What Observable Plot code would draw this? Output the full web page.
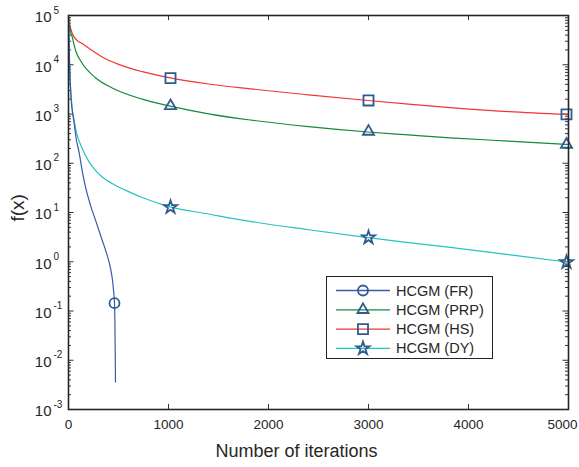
<!DOCTYPE html>
<html>
<head>
<meta charset="utf-8">
<script src="https://cdn.jsdelivr.net/npm/d3@7"></script>
<script src="https://cdn.jsdelivr.net/npm/@observablehq/plot@0.6"></script>
<style>
  html, body { margin: 0; padding: 0; background: #fff; }
  #wrap { position: relative; width: 579px; height: 467px; overflow: hidden; font-family: "Liberation Sans", Arial, sans-serif; }
  #legend { position: absolute; left: 326px; top: 276px; width: 167px; height: 83px; border: 1px solid #222; background: #fff; box-sizing: border-box; }
</style>
</head>
<body>
<div id="wrap"></div>
<script>
// ---- data ----
const iterFR = [0, 5, 12, 20, 28, 40, 54, 80, 104, 140, 170, 220, 270, 337, 380, 417, 440, 450, 460, 464, 467, 470];
const fFR    = [90000, 30000, 8000, 3500, 1800, 1100, 700, 290, 175, 65, 33, 14, 7, 2.74, 1.5, 0.785, 0.42, 0.264, 0.144, 0.06, 0.016, 0.0036];

const iterPRP = [0, 5, 10, 37, 70, 137, 270, 437, 737, 1017, 1400, 1817, 2400, 2994, 3400, 3817, 4400, 5000];
const fPRP    = [95000, 75000, 60000, 36800, 19700, 10700, 5450, 3370, 2000, 1445, 1010, 755, 554, 431, 377, 329, 281, 240];

const iterHS = [0, 5, 10, 40, 80, 137, 220, 337, 500, 737, 1017, 1400, 1817, 2400, 2994, 3400, 3817, 4400, 5000];
const fHS    = [97000, 80000, 69000, 42000, 32000, 27000, 20500, 14400, 10200, 7240, 5430, 4070, 3240, 2450, 1880, 1585, 1350, 1120, 977];

const iterDY = [0, 5, 12, 20, 30, 40, 50, 80, 137, 200, 270, 350, 437, 600, 737, 1017, 1400, 1817, 2400, 2994, 3400, 3817, 4400, 5000];
const fDY    = [90000, 30000, 8000, 3500, 1900, 1100, 860, 420, 200, 112, 71.5, 50, 38.8, 26.5, 20.2, 13, 9.33, 6.6, 4.47, 3.09, 2.45, 1.95, 1.4, 0.977];

// marker positions
const mkFR  = {x: [460], y: [0.144]};
const mkPRP = {x: [1020, 3000, 4980], y: [1460, 440, 240]};
const mkHS  = {x: [1020, 3000, 4980], y: [5350, 1880, 980]};
const mkDY  = {x: [1020, 3000, 4980], y: [12.8, 3.1, 0.98]};

const seriesNames = ["HCGM (FR)", "HCGM (PRP)", "HCGM (HS)", "HCGM (DY)"];
const xTicks = [0, 1000, 2000, 3000, 4000, 5000];
const yTicks = [1e-3, 1e-2, 1e-1, 1e0, 1e1, 1e2, 1e3, 1e4, 1e5];
const yExp   = ["-3", "-2", "-1", "0", "1", "2", "3", "4", "5"];

// ---- styles ----
const colFR = "#3a5aa8", colPRP = "#138a3c", colHS = "#f23434", colDY = "#27c2c2";
const mkCol = "#2f5b8f";
const symFR = d3.symbolCircle, symPRP = d3.symbolTriangle2, symHS = d3.symbolSquare2, symDY = d3.symbolStar;
const rFR = 5, rPRP = 5.3, rHS = 6.4, rDY = 4.1;

const toRows = (xs, ys) => xs.map((x, i) => ({x, y: ys[i]}));
const minorY = [];
for (let e = -3; e < 5; e++) for (let k = 2; k <= 9; k++) minorY.push(k * Math.pow(10, e));
const innerX = xTicks.filter(d => d > 0 && d < 5000);

const W = 579, H = 467;
const chart = Plot.plot({
  width: W, height: H,
  marginLeft: 68, marginRight: 11, marginTop: 15, marginBottom: 58,
  style: {fontFamily: "Liberation Sans, Arial, sans-serif", background: "#fff", color: "#262626"},
  x: {domain: [0, 5000], axis: null},
  y: {type: "log", domain: [1e-3, 1e5], axis: null},
  marks: [
    // inward ticks
    Plot.ruleY(yTicks, {y: d => d, x1: 0, x2: 55, stroke: "#333", strokeWidth: 1}),
    Plot.ruleY(minorY, {y: d => d, x1: 0, x2: 30, stroke: "#333", strokeWidth: 1}),
    Plot.ruleY(yTicks, {y: d => d, x1: 4945, x2: 5000, stroke: "#333", strokeWidth: 1}),
    Plot.ruleY(minorY, {y: d => d, x1: 4970, x2: 5000, stroke: "#333", strokeWidth: 1}),
    Plot.ruleX(innerX, {x: d => d, y1: 1e-3, y2: 1.27e-3, stroke: "#333", strokeWidth: 1}),
    Plot.ruleX(innerX, {x: d => d, y1: 1e5, y2: 1e5 / 1.27, stroke: "#333", strokeWidth: 1}),
    // curves
    Plot.line(toRows(iterHS, fHS), {x: "x", y: "y", stroke: colHS, strokeWidth: 1.2, curve: "monotone-x"}),
    Plot.line(toRows(iterPRP, fPRP), {x: "x", y: "y", stroke: colPRP, strokeWidth: 1.2, curve: "monotone-x"}),
    Plot.line(toRows(iterDY, fDY), {x: "x", y: "y", stroke: colDY, strokeWidth: 1.2, curve: "monotone-x"}),
    Plot.line(toRows(iterFR, fFR), {x: "x", y: "y", stroke: colFR, strokeWidth: 1.2, curve: "monotone-x"}),
    // markers
    Plot.dot(toRows(mkFR.x, mkFR.y), {x: "x", y: "y", symbol: symFR, r: rFR, stroke: mkCol, strokeWidth: 1.8, fill: "none"}),
    Plot.dot(toRows(mkPRP.x, mkPRP.y), {x: "x", y: "y", symbol: symPRP, r: rPRP, stroke: mkCol, strokeWidth: 1.8, fill: "none"}),
    Plot.dot(toRows(mkHS.x, mkHS.y), {x: "x", y: "y", symbol: symHS, r: rHS, stroke: mkCol, strokeWidth: 1.8, fill: "none"}),
    Plot.dot(toRows(mkDY.x, mkDY.y), {x: "x", y: "y", symbol: symDY, r: rDY, stroke: mkCol, strokeWidth: 1.8, fill: "none"}),
    Plot.frame({stroke: "#262626", strokeWidth: 1.6}),
    // tick labels
    Plot.text(yTicks, {y: d => d, text: () => "10", frameAnchor: "left", dx: -17, dy: 2, textAnchor: "end", fontSize: 15, fill: "#262626"}),
    Plot.text(yTicks, {y: d => d, text: (d, i) => yExp[i], frameAnchor: "left", dx: -15, dy: -5, textAnchor: "start", fontSize: 10, fill: "#262626"}),
    Plot.text(xTicks.slice(0, 5), {x: d => d, text: d => String(d), frameAnchor: "bottom", dy: 19, fontSize: 13.5, fill: "#262626"}),
    Plot.text(xTicks.slice(5), {x: d => d, text: d => String(d), frameAnchor: "bottom", dy: 19, dx: -6, fontSize: 13.5, fill: "#262626"}),
    // axis titles
    Plot.text(["Number of iterations"], {frameAnchor: "bottom", dx: -22, dy: 47, fontSize: 18, fill: "#262626"}),
    Plot.text(["f(x)"], {frameAnchor: "left", dx: -51, dy: 9, rotate: -90, fontSize: 19, fill: "#262626"})
  ]
});
const wrap = document.getElementById("wrap");
wrap.appendChild(chart);

// ---- legend ----
const leg = document.createElement("div");
leg.id = "legend";
wrap.appendChild(leg);
const lsvg = d3.select(leg).append("svg").attr("width", 165).attr("height", 81).style("display", "block");
const legItems = [
  {name: seriesNames[0], col: colFR, sym: symFR, r: rFR},
  {name: seriesNames[1], col: colPRP, sym: symPRP, r: rPRP},
  {name: seriesNames[2], col: colHS, sym: symHS, r: rHS},
  {name: seriesNames[3], col: colDY, sym: symDY, r: rDY}
];
legItems.forEach((it, i) => {
  const y = 13.5 + i * 19.3;
  const g = lsvg.append("g").attr("transform", `translate(0,${y})`);
  g.append("line").attr("x1", 9).attr("x2", 63).attr("y1", 0).attr("y2", 0).attr("stroke", it.col).attr("stroke-width", 1.3);
  g.append("path").attr("transform", "translate(36,0)").attr("d", d3.symbol(it.sym, Math.PI * it.r * it.r)())
    .attr("fill", "none").attr("stroke", mkCol).attr("stroke-width", 1.8);
  g.append("text").attr("x", 69).attr("y", 0).attr("dy", "0.35em").attr("font-size", 14.5)
    .attr("font-family", "Liberation Sans, Arial, sans-serif").attr("fill", "#262626").text(it.name);
});
</script>
</body>
</html>
